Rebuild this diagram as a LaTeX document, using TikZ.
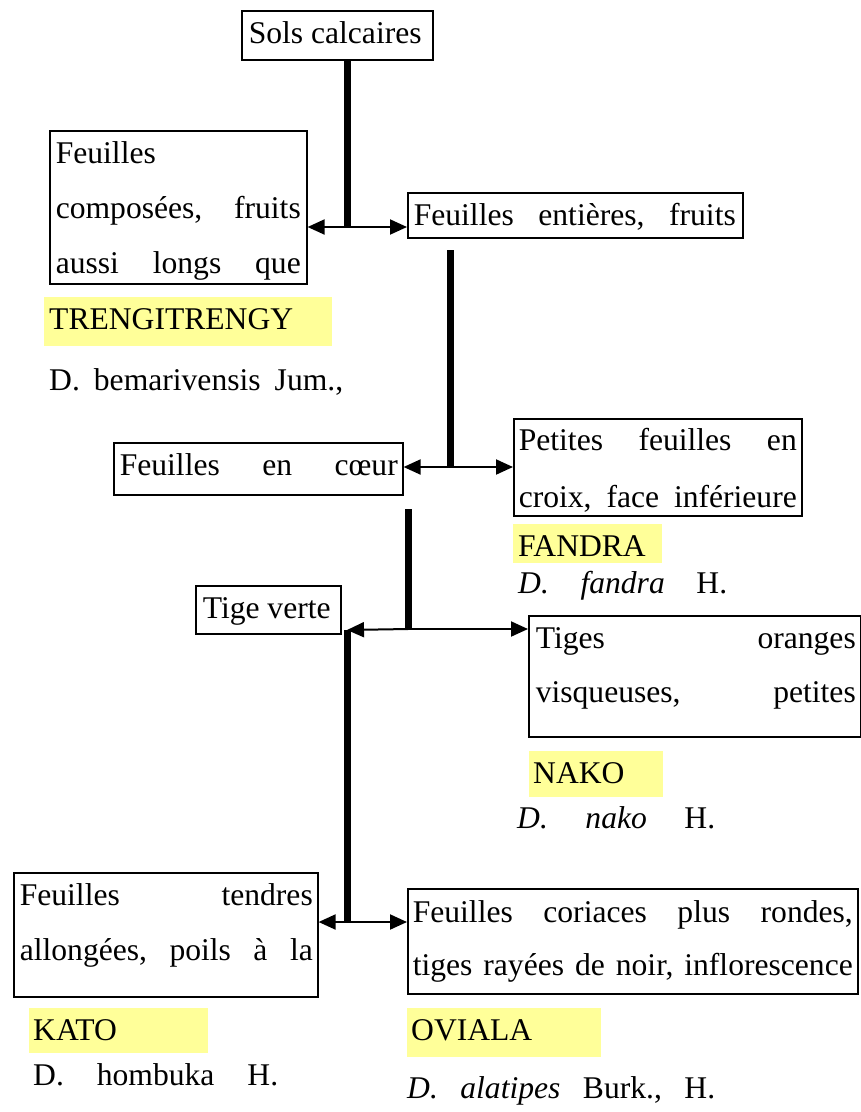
\documentclass[tikz,border=0pt]{standalone}
\usepackage{fontspec}
\setmainfont{Liberation Serif}
\usetikzlibrary{arrows.meta}
\definecolor{hlyellow}{RGB}{255,255,153}
% #1 width, #2 height, #3 left inset, #4 right inset, #5 first baseline offset, #6 baselineskip, #7 text
\newcommand\bxt[7]{\parbox[b][#2pt][t]{#1pt}{\fontsize{31.6}{#6}\selectfont\leftskip=#3pt\rightskip=#4pt\relax\rule{0pt}{#5pt}#7}}
\tikzset{
  box/.style={draw=black, line width=1.6pt, inner sep=0pt, anchor=north west},
  hl/.style={fill=hlyellow, inner sep=0pt, anchor=north west},
  spec/.style={inner sep=0pt, anchor=base west, font=\fontsize{31.6}{37}\selectfont},
  stem/.style={line width=7pt},
  arr/.style={line width=2pt, -{Triangle[length=17pt,width=15pt]}}
}
\begin{document}
\begin{tikzpicture}[x=1pt,y=-1pt]
\useasboundingbox (0,0) rectangle (861,1112);

% boxes
\node[box] (b1) at (241,10) {\bxt{191}{49}{7}{0}{33}{37}{Sols calcaires}};
\node[box] (b2) at (49,130) {\bxt{257}{153}{6}{6}{33}{55}{Feuilles\\ composées,\hfill fruits\\ aussi\hfill longs\hfill que}};
\node[box] (b3) at (407,192) {\bxt{335}{45}{6}{7}{33}{37}{Feuilles\hfill entières,\hfill fruits}};
\node[box] (b6) at (113,442) {\bxt{289}{52}{6}{5}{33}{37}{Feuilles\hfill en\hfill cœur}};
\node[box] (b7) at (513,418) {\bxt{288}{97}{5}{5}{32}{57}{Petites\hfill feuilles\hfill en\\ croix,\hfill face\hfill inférieure}};
\node[box] (b10) at (195,585) {\bxt{145}{48}{7}{0}{33}{37}{Tige verte}};
\node[box] (b11) at (528,615) {\bxt{332}{121}{7}{5}{33}{54}{Tiges\hfill oranges\\ visqueuses,\hfill petites}};
\node[box] (b14) at (13,872) {\bxt{304}{124}{6}{5}{33}{55}{Feuilles\hfill tendres\\ allongées,\hfill poils\hfill à\hfill la}};
\node[box] (b15) at (407,888) {\bxt{450}{105}{5}{5}{34}{53}{Feuilles\hfill coriaces\hfill plus\hfill rondes,\\ tiges\hfill rayées\hfill de\hfill noir,\hfill inflorescence}};

% highlighted vernacular names
\node[hl] (t1) at (44,297) {\bxt{288}{49}{5}{0}{32}{37}{TRENGITRENGY}};
\node[hl] (t2) at (513,524) {\bxt{149}{39}{5}{0}{32}{37}{FANDRA}};
\node[hl] (t3) at (529,751) {\bxt{134}{46}{4}{0}{32}{37}{NAKO}};
\node[hl] (t4) at (29,1008) {\bxt{179}{45}{4}{0}{32}{37}{KATO}};
\node[hl] (t5) at (407,1008) {\bxt{194}{49}{4}{0}{32}{37}{OVIALA}};

% scientific names
\node[spec] (s1) at (49,390) {\hbox to 294pt{D.\hfill bemarivensis\hfill Jum.,}};
\node[spec] (s2) at (518,593) {\hbox to 209pt{\textit{D.}\hfill\textit{fandra}\hfill H.}};
\node[spec] (s3) at (517,828) {\hbox to 198pt{\textit{D.}\hfill\textit{nako}\hfill H.}};
\node[spec] (s4) at (33,1085) {\hbox to 245pt{D.\hfill hombuka\hfill H.}};
\node[spec] (s5) at (407,1098) {\hbox to 308pt{\textit{D.}\hfill\textit{alatipes}\hfill Burk.,\hfill H.}};

% junction points
\coordinate (j1) at (347,227);
\coordinate (top2) at (450,250);
\coordinate (j2) at (450,467);
\coordinate (top3) at (408,509);
\coordinate (j3) at (408,629);
\coordinate (j4) at (347,630);
\coordinate (j5) at (347,922);

% connectors
\draw[stem] (b1.south -| j1) -- (j1);
\draw[arr] (j1) -- (j1 -| b2.east);
\draw[arr] (j1) -- (j1 -| b3.west);

\draw[stem] (top2) -- (j2);
\draw[arr] (j2) -- (j2 -| b6.east);
\draw[arr] (j2) -- (j2 -| b7.west);

\draw[stem] (top3) -- (j3);
\draw[arr] (j3) -- (j4);
\draw[arr] (j3) -- (j3 -| b11.west);

\draw[stem] (j4) -- (j5);
\draw[arr] (j5) -- (j5 -| b14.east);
\draw[arr] (j5) -- (j5 -| b15.west);
\end{tikzpicture}
\end{document}
